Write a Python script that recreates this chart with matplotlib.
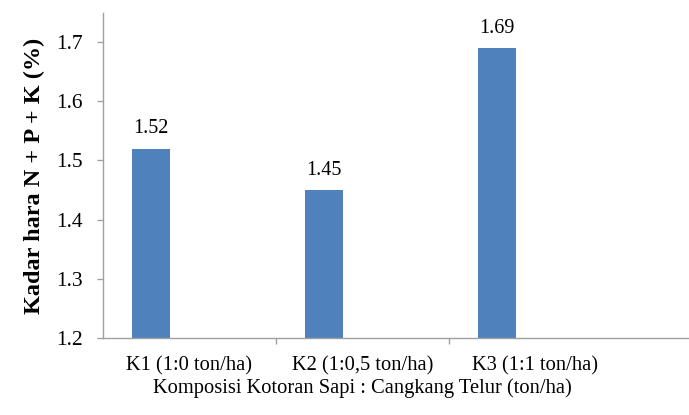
import matplotlib.pyplot as plt
from matplotlib.ticker import FixedLocator

# Données
categories = ['K1 (1:0 ton/ha)', 'K2 (1:0,5 ton/ha)', 'K3 (1:1 ton/ha)']
kadar_npk = [1.52, 1.45, 1.69]
y_ticks = [1.2, 1.3, 1.4, 1.5, 1.6, 1.7]

plt.rcParams['font.family'] = ['Liberation Serif', 'DejaVu Serif']

fig = plt.figure(figsize=(6.89, 4.15), dpi=100)
ax = fig.add_axes([0.1495, 0.1855, 0.8505, 0.7832])

x = list(range(len(categories)))
largeur = 0.22
barres = ax.bar([i - largeur for i in x], kadar_npk, width=largeur, color='#4F81BD')

for b, v in zip(barres, kadar_npk):
    ax.annotate('{:.2f}'.format(v), (b.get_x() + b.get_width() / 2, v),
                xytext=(0, 7.5), textcoords='offset points',
                ha='center', va='bottom', fontsize=14.5)

ax.set_ylim(1.2, 1.749)
ax.set_xlim(-0.5, 2.89)
ax.set_yticks(y_ticks)
ax.set_yticklabels(['{:.1f}'.format(t) for t in y_ticks])
ax.set_xticks(x)
ax.set_xticklabels(categories)
ax.xaxis.set_minor_locator(FixedLocator([0.5, 1.5]))

ax.tick_params(axis='x', which='major', length=0, pad=13, labelsize=14.8)
ax.tick_params(axis='x', which='minor', length=4.5, width=1, color='#A0A0A0', direction='out')
ax.tick_params(axis='y', length=4.5, width=1, color='#A0A0A0', pad=10, labelsize=15.5)

for s in ['top', 'right']:
    ax.spines[s].set_visible(False)
for s in ['left', 'bottom']:
    ax.spines[s].set_color('#A0A0A0')
    ax.spines[s].set_linewidth(1)

ax.set_ylabel('Kadar hara N + P + K (%)', fontsize=17.5, fontweight='bold', labelpad=8)
ax.set_xlabel('Komposisi Kotoran Sapi : Cangkang Telur (ton/ha)', fontsize=14.8, labelpad=4)
# l'étiquette est centrée sur les trois catégories, pas sur tout l'axe
ax.xaxis.set_label_coords(0.442, -0.125)
ax.xaxis.label.set_va('top')

plt.savefig('out.png', dpi=100)
